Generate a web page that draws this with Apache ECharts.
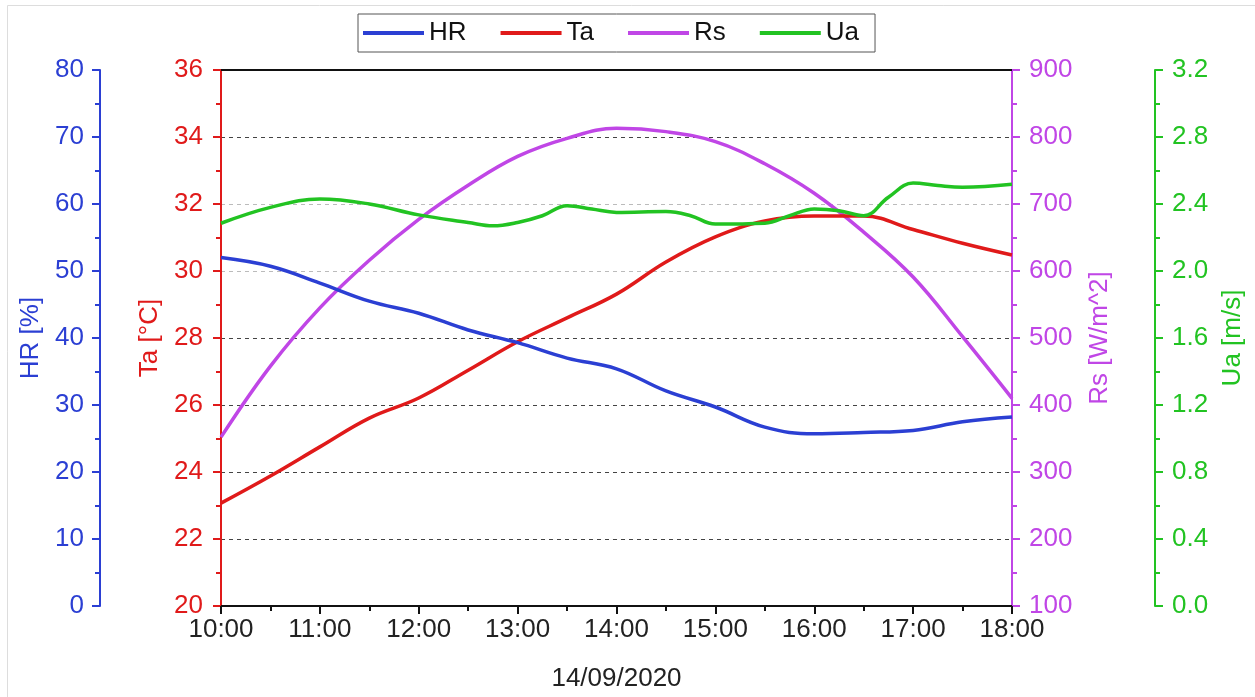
<!DOCTYPE html>
<html>
<head>
<meta charset="utf-8">
<script src="https://cdn.jsdelivr.net/npm/echarts@6/dist/echarts.min.js"></script>
<style>
  html, body { margin: 0; padding: 0; background: #fff; }
  #chart { width: 1255px; height: 697px; }
</style>
</head>
<body>
<div id="chart"></div>
<script>
// half-hour samples, 10:00 .. 18:00 (hours as decimals)
const times = [10, 10.5, 11, 11.5, 12, 12.5, 13, 13.5, 14, 14.5, 15, 15.5, 16, 16.5, 17, 17.5, 18];
const hrValues = [52.0, 50.7, 48.2, 45.5, 43.7, 41.2, 39.3, 37.0, 35.4, 32.1, 29.7, 26.7, 25.7, 25.9, 26.2, 27.5, 28.2];
const taValues = [23.07, 23.88, 24.75, 25.61, 26.21, 27.04, 27.89, 28.6, 29.31, 30.27, 31.02, 31.49, 31.64, 31.64, 31.24, 30.83, 30.48];
const rsValues = [352, 458, 545, 616, 677, 728, 771, 798, 813, 808, 793, 760, 716, 658, 591, 502, 410];
// wind speed has more wiggles, read at quarter hours
const uaTimes = [10, 10.5, 11, 11.5, 12, 12.5, 12.75, 13, 13.25, 13.5, 13.75, 14, 14.5, 14.75, 15, 15.5, 15.75, 16, 16.25, 16.5, 16.75, 17, 17.25, 17.5, 18];
const uaValues = [2.285, 2.38, 2.43, 2.40, 2.335, 2.29, 2.27, 2.29, 2.33, 2.39, 2.37, 2.35, 2.355, 2.33, 2.28, 2.285, 2.33, 2.37, 2.36, 2.33, 2.44, 2.525, 2.51, 2.50, 2.518];
const xTickLabels = ["10:00", "11:00", "12:00", "13:00", "14:00", "15:00", "16:00", "17:00", "18:00"];

const FONT = "Liberation Sans, Arial, sans-serif";
const FS = 26;
const C_HR = "#2b3fd3";
const C_TA = "#e01a1a";
const C_RS = "#c046e6";
const C_UA = "#22c322";

const pairs = (xs, ys) => xs.map((x, i) => [x, ys[i]]);

const chart = echarts.init(document.getElementById("chart"), null, { renderer: "canvas" });

function yAxis(opts){
  return {
    type: "value",
    position: opts.position,
    offset: opts.offset,
    min: opts.min,
    max: opts.max,
    interval: opts.interval,
    name: opts.name,
    nameLocation: "middle",
    nameGap: opts.nameGap,
    nameTextStyle: { color: opts.color, fontSize: FS, fontFamily: FONT },
    axisLine: { show: true, lineStyle: { color: opts.color, width: 2 } },
    axisTick: { show: true, inside: false, length: 8, lineStyle: { color: opts.color, width: 2 } },
    minorTick: { show: true, splitNumber: 2, length: 5, lineStyle: { color: opts.color, width: 2 } },
    axisLabel: {
      color: opts.color, fontSize: FS, fontFamily: FONT, margin: opts.margin,
      formatter: opts.formatter
    },
    splitLine: opts.split ? {
      show: true,
      lineStyle: {
        type: [4, 4],
        width: 1,
        // 20 .. 36; the 30 and 32 lines are paler in the source
        color: ["#444", "#444", "#444", "#444", "#444", "#bbb", "#bbb", "#444", "transparent"]
      }
    } : { show: false },
    minorSplitLine: { show: false }
  };
}

chart.setOption({
  animation: false,
  backgroundColor: "#fff",
  textStyle: { fontFamily: FONT },
  graphic: [
    { type: "line", shape: { x1: 7.5, y1: 5.5, x2: 1255, y2: 5.5 }, style: { stroke: "#ddd", lineWidth: 1 } },
    { type: "line", shape: { x1: 7.5, y1: 5.5, x2: 7.5, y2: 697 }, style: { stroke: "#ddd", lineWidth: 1 } },
    { type: "line", z: 100, shape: { x1: 221, y1: 70, x2: 1012, y2: 70 }, style: { stroke: "#111", lineWidth: 2 } }
  ],
  legend: {
    left: 358,
    top: 14,
    padding: [6, 16, 6, 5],
    itemGap: 34,
    itemWidth: 61,
    itemHeight: 4,
    icon: "rect",
    borderColor: "#555",
    borderWidth: 1,
    backgroundColor: "#fff",
    textStyle: { color: "#111", fontSize: FS, fontFamily: FONT },
    data: ["HR", "Ta", "Rs", "Ua"]
  },
  grid: { left: 221, right: 243, top: 70, bottom: 91 },
  xAxis: {
    type: "value",
    min: 10,
    max: 18,
    interval: 1,
    name: "14/09/2020",
    nameLocation: "middle",
    nameGap: 60,
    nameTextStyle: { color: "#222", fontSize: FS, fontFamily: FONT },
    axisLine: { lineStyle: { color: "#111", width: 2 } },
    axisTick: { inside: false, length: 8, lineStyle: { color: "#111", width: 2 } },
    minorTick: { show: true, splitNumber: 2, length: 5, lineStyle: { color: "#111", width: 2 } },
    axisLabel: {
      color: "#222", fontSize: FS, fontFamily: FONT, margin: 11,
      formatter: (v) => xTickLabels[Math.round(v - 10)] || ""
    },
    splitLine: { show: false }
  },
  yAxis: [
    yAxis({ position: "left", offset: 0, min: 20, max: 36, interval: 2, name: "Ta [°C]", nameGap: 52, color: C_TA, margin: 18, split: true }),
    yAxis({ position: "left", offset: 121, min: 0, max: 80, interval: 10, name: "HR [%]", nameGap: 51, color: C_HR, margin: 16 }),
    yAxis({ position: "right", offset: 0, min: 100, max: 900, interval: 100, name: "Rs [W/m^2]", nameGap: 75, color: C_RS, margin: 17 }),
    yAxis({ position: "right", offset: 143, min: 0, max: 3.2, interval: 0.4, name: "Ua [m/s]", nameGap: 65, color: C_UA, margin: 17, formatter: (v) => v.toFixed(1) })
  ],
  series: [
    { name: "HR", type: "line", yAxisIndex: 1, smooth: 0.4, symbol: "none", color: C_HR, lineStyle: { width: 3.5, color: C_HR }, data: pairs(times, hrValues), z: 4 },
    { name: "Ta", type: "line", yAxisIndex: 0, smooth: 0.4, symbol: "none", color: C_TA, lineStyle: { width: 3.5, color: C_TA }, data: pairs(times, taValues), z: 3 },
    { name: "Rs", type: "line", yAxisIndex: 2, smooth: 0.4, symbol: "none", color: C_RS, lineStyle: { width: 3.5, color: C_RS }, data: pairs(times, rsValues), z: 2 },
    { name: "Ua", type: "line", yAxisIndex: 3, smooth: 0.4, symbol: "none", color: C_UA, lineStyle: { width: 3.5, color: C_UA }, data: pairs(uaTimes, uaValues), z: 5 }
  ]
});
</script>
</body>
</html>
